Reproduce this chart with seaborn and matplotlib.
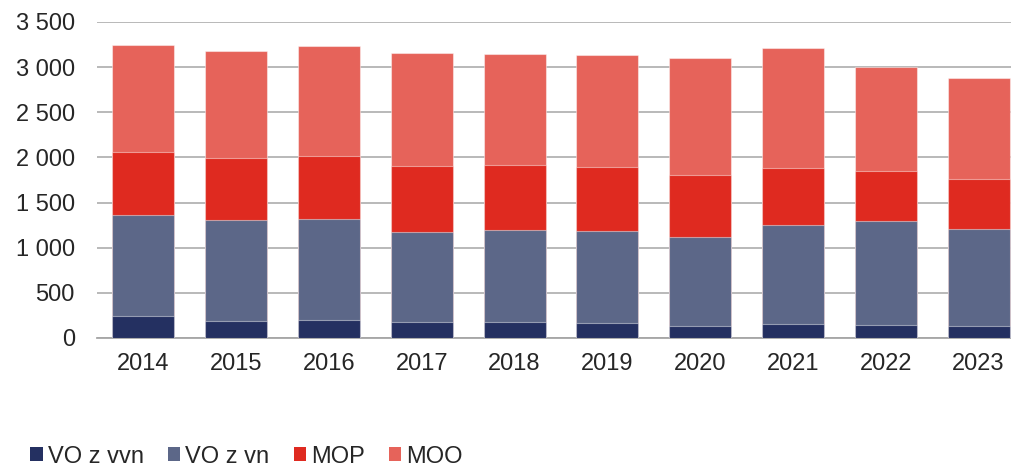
#Stacked bars 2014-2023

import numpy as np
import pandas as pd
import matplotlib
matplotlib.use('Agg')
import matplotlib.pyplot as plt
import matplotlib.ticker as mticker
from matplotlib.patches import Patch
import seaborn as sb

years = ['2014', '2015', '2016', '2017', '2018', '2019', '2020', '2021', '2022', '2023']
vo_vvn = [248, 192, 196, 178, 178, 166, 133, 159, 148, 133]
vo_vn = [1114, 1110, 1121, 991, 1021, 1018, 991, 1095, 1147, 1073]
mop = [702, 688, 695, 732, 713, 706, 677, 625, 558, 551]
moo = [1177, 1192, 1226, 1251, 1233, 1240, 1296, 1329, 1151, 1121]

series = ['VO z vvn', 'VO z vn', 'MOP', 'MOO']
colors = ['#243061', '#5c6788', '#df2a20', '#e6635a']

sb.set_style('white')
plt.rcParams['font.family'] = ['Liberation Sans', 'DejaVu Sans']
txt = '#262626'

df = pd.DataFrame({'Year': years, 'VO z vvn': vo_vvn, 'VO z vn': vo_vn,
                   'MOP': mop, 'MOO': moo})
cum = df[series].cumsum(axis = 1)

fig = plt.figure(figsize = (10.11, 4.70), dpi = 100)
ax = fig.add_axes([97 / 1011, 132 / 470, 928 / 1011, 316 / 470])

# tallest first, each layer drawn over the previous one
for name, col in reversed(list(zip(series, colors))):
    sb.barplot(x = df['Year'], y = cum[name], color = col, saturation = 1,
               width = 0.67, edgecolor = (1, 1, 1, 0.45), linewidth = 0.8,
               ax = ax, zorder = 3)

ax.set_xlim(-0.5, 9.5)
ax.set_ylim(0, 3500)
ax.set_yticks(np.arange(0, 3501, 500))
ax.yaxis.set_major_formatter(mticker.FuncFormatter(lambda v, p: f'{v:,.0f}'.replace(',', ' ')))
ax.grid(axis = 'y', color = '#a6a6a6', linewidth = 1.1, zorder = 0)
ax.set_axisbelow(True)
for s in ['top', 'right', 'left']:
    ax.spines[s].set_visible(False)
ax.spines['bottom'].set_color('#a6a6a6')
ax.spines['bottom'].set_linewidth(1.3)
ax.tick_params(axis = 'both', length = 0, labelsize = 17, colors = txt)
ax.tick_params(axis = 'y', pad = 16)
ax.tick_params(axis = 'x', pad = 11)
ax.set(xlabel = '', ylabel = '')

handles = [Patch(facecolor = c, edgecolor = 'none', label = s) for s, c in zip(series, colors)]
fig.legend(handles = handles, loc = 'lower left', bbox_to_anchor = (0.009, -0.04),
           ncol = 4, frameon = False, fontsize = 17, handlelength = 0.52,
           handleheight = 0.52, handletextpad = 0.22, columnspacing = 1.02,
           labelcolor = txt)

fig.savefig('out.png', dpi = 100)
